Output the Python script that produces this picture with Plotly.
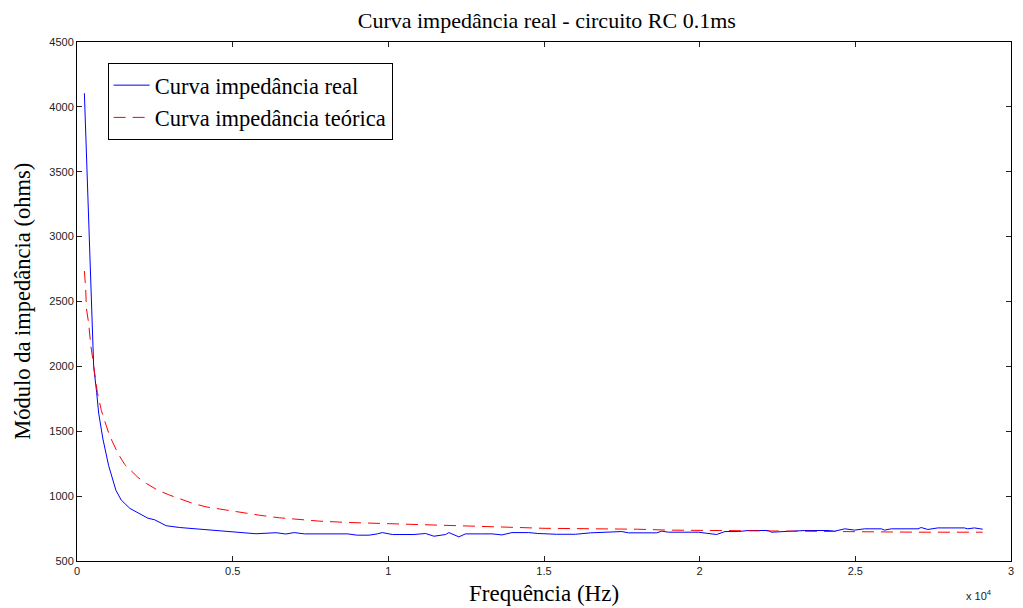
import plotly.graph_objects as go

# Measured impedance magnitude (Hz, ohms)
freq_real = [237, 288, 333, 390, 439, 494, 535, 631, 696, 833, 1016, 1250, 1420,
             1700, 2010, 2276, 2490, 2865, 3300, 3930, 4680, 5000, 5750, 6390, 6710,
             6978, 7300, 8000, 8687, 9000, 9381, 9648, 9808, 10128, 10449, 10823,
             11197, 11464, 11838, 11944, 12265, 12479, 13000, 13333, 13650, 13974,
             14509, 14800, 15400, 16005, 16500, 17500, 17714, 18622, 18782, 18996,
             19957, 20171, 20545, 20812, 21239, 21560, 22201, 22309, 22843, 23377,
             24125, 24338, 24659, 24979, 25300, 25834, 25940, 26154, 27009, 27115,
             27329, 27650, 28504, 28611, 28825, 29092]
z_real = [4105, 3740, 3275, 2950, 2515, 2154, 2000, 1800, 1640, 1440, 1235, 1045, 970,
          905, 866, 830, 818, 772, 758, 745, 732, 722, 710, 718, 708,
          719, 709, 709, 709, 699, 699, 709, 719, 704, 704, 704,
          712, 691, 704, 719, 686, 709, 709, 709, 701, 719,
          719, 712, 706, 706, 717, 727, 717, 717, 730, 722,
          722, 717, 704, 727, 727, 735, 735, 722, 730, 735,
          735, 730, 748, 738, 748, 748, 738, 748, 748, 758,
          743, 755, 755, 748, 755, 745]

# Theoretical impedance magnitude (Hz, ohms)
freq_teo = [237, 279, 301, 375, 439, 500, 567, 653, 782, 910, 1048, 1314, 1529, 1700,
            1955, 2224, 2600, 2971, 3500, 3718, 4147, 4468, 5109, 5856, 6500, 7300,
            7800, 8700, 9700, 10663, 11500, 12700, 14200, 15000, 16000, 17000, 18000,
            19000, 20000, 22000, 24000, 25500, 27000, 29092]
z_teo = [2735, 2600, 2450, 2330, 2170, 2050, 1950, 1800, 1660, 1565, 1465, 1330, 1245,
         1205, 1145, 1098, 1045, 1008, 965, 944, 917, 905, 879, 853, 833, 815,
         807, 797, 789, 781, 778, 768, 758, 752, 750, 745, 745,
         738, 736, 730, 730, 725, 722, 722]

x_tickvals = [0, 5000, 10000, 15000, 20000, 25000, 30000]
x_ticktext = ["0", "0.5", "1", "1.5", "2", "2.5", "3"]
y_tickvals = [500, 1000, 1500, 2000, 2500, 3000, 3500, 4000, 4500]

SERIF = "Liberation Serif, Times New Roman, serif"
SANS = "Liberation Sans, Arial, sans-serif"

fig = go.Figure()
fig.add_trace(go.Scatter(
    x=freq_real, y=z_real, mode="lines", name="Curva impedância real",
    line=dict(color="#0000ff", width=1)))
fig.add_trace(go.Scatter(
    x=freq_teo, y=z_teo, mode="lines", name="Curva impedância teórica",
    line=dict(color="#ff0000", width=1, dash="12px,7px")))

axis_common = dict(
    showgrid=False, zeroline=False, showline=True, linecolor="black", linewidth=1,
    mirror="ticks", ticks="inside", ticklen=5, tickcolor="#222",
    tickfont=dict(family=SANS, size=11, color="#222"))

fig.update_layout(
    width=1023, height=608,
    margin=dict(l=77, r=9, t=42, b=47),
    paper_bgcolor="white", plot_bgcolor="white",
    title=dict(text="Curva impedância real - circuito RC 0.1ms",
               font=dict(family=SERIF, size=22, color="black"),
               x=0.5345, xanchor="center", y=1 - 20 / 608, yanchor="middle",
               yref="container"),
    xaxis=dict(range=[0, 30000], tickvals=x_tickvals, ticktext=x_ticktext, **axis_common),
    yaxis=dict(range=[500, 4500], tickvals=y_tickvals, **axis_common),
    showlegend=True,
    legend=dict(x=0.0328, y=0.9595, xanchor="left", yanchor="top",
                bgcolor="white", bordercolor="black", borderwidth=1,
                font=dict(family=SERIF, size=22.5, color="black"),
                tracegroupgap=0, itemwidth=36),
    annotations=[
        dict(text="Frequência (Hz)", xref="paper", yref="paper", x=0.5, y=-32 / 519,
             xanchor="center", yanchor="middle", showarrow=False,
             font=dict(family=SERIF, size=23, color="black")),
        dict(text="Módulo da impedância (ohms)", xref="paper", yref="paper",
             x=-55 / 937, y=0.5, xanchor="center", yanchor="middle", textangle=-90,
             showarrow=False, font=dict(family=SERIF, size=22.5, color="black")),
        dict(text="x 10<sup>4</sup>", xref="paper", yref="paper", x=(982 - 77) / 937,
             y=-34 / 519, xanchor="center", yanchor="middle", showarrow=False,
             font=dict(family=SANS, size=11, color="#222")),
    ],
)

fig.write_html("out.html")
